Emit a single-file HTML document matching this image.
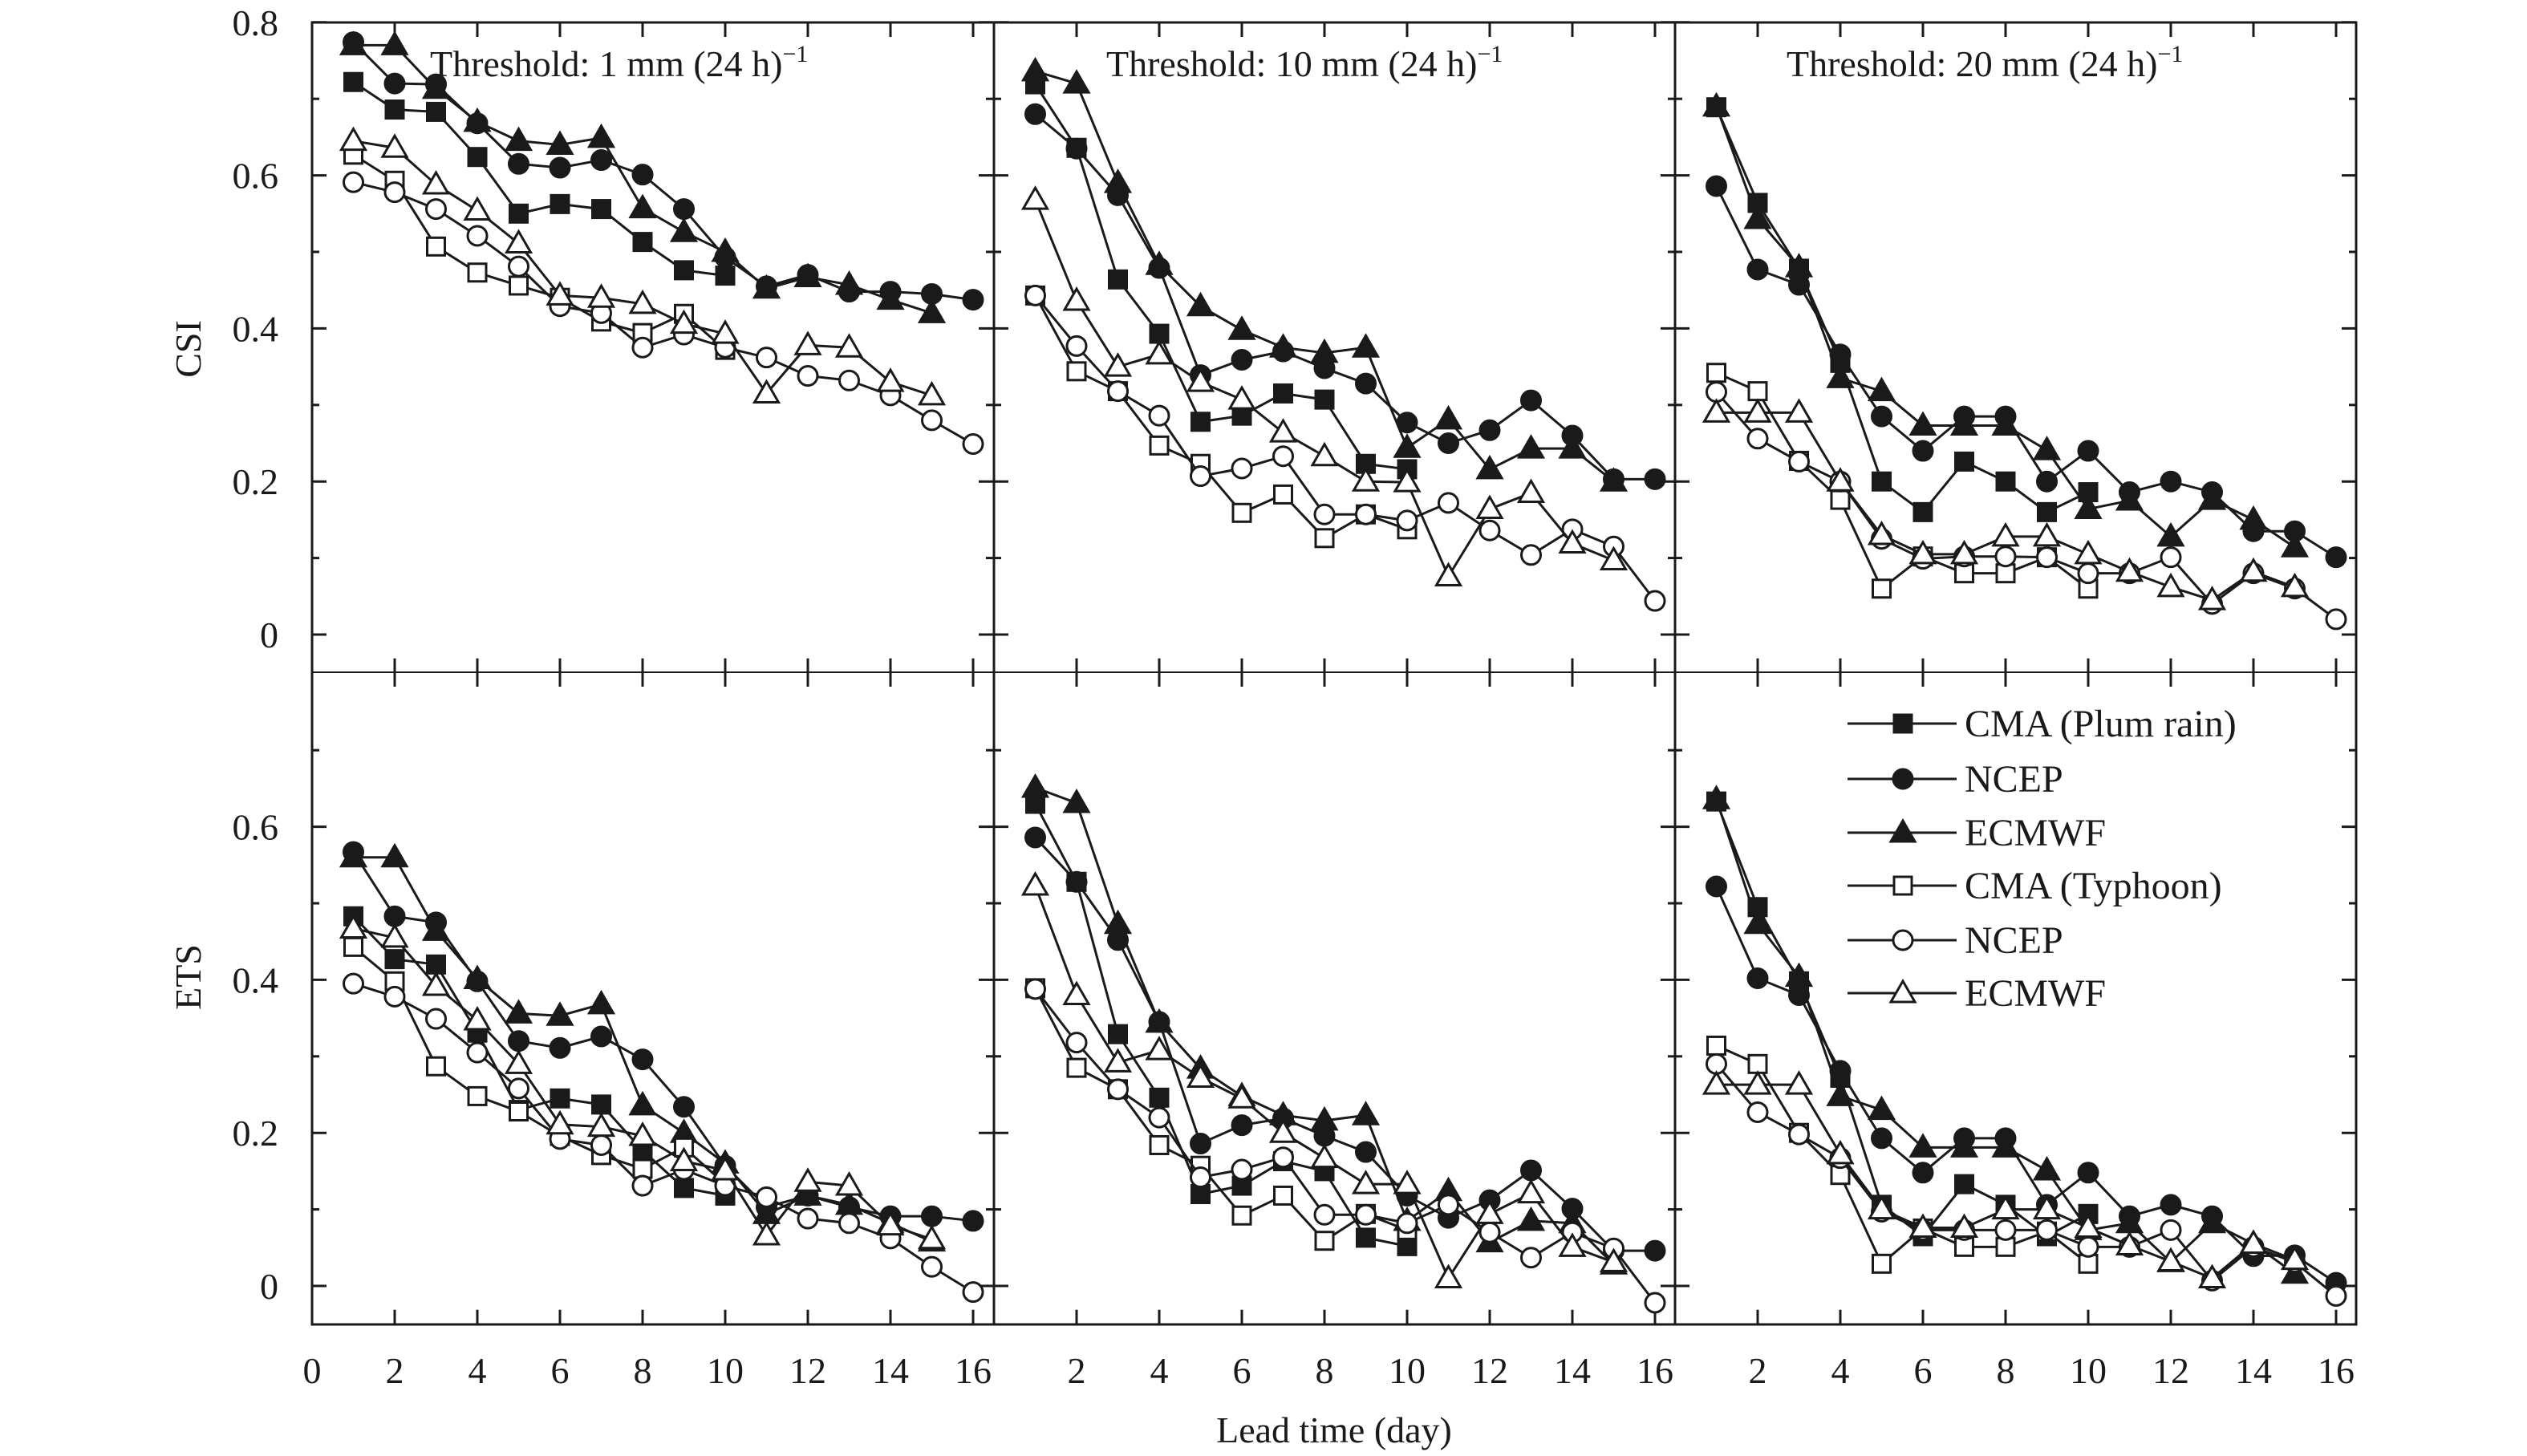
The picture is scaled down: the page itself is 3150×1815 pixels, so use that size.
<!DOCTYPE html>
<html><head><meta charset="utf-8"><title>CSI and ETS by lead time</title>
<style>html,body{margin:0;padding:0;background:#fff}svg{display:block}
text{font-family:"Liberation Serif",serif;fill:#1a1a1a}</style></head>
<body>
<svg id="fig" width="3150" height="1815" viewBox="0 0 3150 1815" xmlns="http://www.w3.org/2000/svg"></svg>
<script>
// ---- data ----
const days = [1,2,3,4,5,6,7,8,9,10,11,12,13,14,15,16];
const seriesNames = ["CMA (Plum rain)","NCEP","ECMWF","CMA (Typhoon)","NCEP","ECMWF"];
const seriesMarkers = ["sq-fill","ci-fill","tr-fill","sq-open","ci-open","tr-open"];
const thresholds = ["1","10","20"];
// CSI, 1 mm
const csi1_cmaPlum = [0.722,0.686,0.683,0.624,0.55,0.5625,0.556,0.513,0.476,0.469];
const csi1_ncepPlum = [0.774,0.72,0.719,0.668,0.615,0.61,0.62,0.601,0.556,0.493,0.455,0.47,0.448,0.448,0.445,0.4375];
const csi1_ecPlum = [0.77,0.77,0.713,0.67,0.645,0.64,0.649,0.557,0.526,0.5,0.452,0.467,0.457,0.4375,0.42];
const csi1_cmaTy = [0.627,0.593,0.507,0.473,0.456,0.44,0.409,0.394,0.419,0.372];
const csi1_ncepTy = [0.591,0.578,0.556,0.521,0.481,0.429,0.42,0.375,0.392,0.375,0.362,0.338,0.332,0.3125,0.28,0.249];
const csi1_ecTy = [0.645,0.636,0.588,0.554,0.511,0.443,0.44,0.432,0.406,0.393,0.315,0.378,0.375,0.33,0.3125];
// CSI, 10 mm
const csi10_cmaPlum = [0.719,0.636,0.464,0.393,0.278,0.286,0.315,0.307,0.223,0.216];
const csi10_ncepPlum = [0.68,0.635,0.574,0.479,0.339,0.359,0.37,0.348,0.328,0.277,0.25,0.267,0.306,0.26,0.203,0.203];
const csi10_ecPlum = [0.736,0.72,0.59,0.483,0.429,0.398,0.375,0.368,0.375,0.244,0.281,0.216,0.243,0.243,0.2];
const csi10_cmaTy = [0.443,0.344,0.318,0.247,0.223,0.159,0.183,0.126,0.157,0.1375];
const csi10_ncepTy = [0.443,0.377,0.318,0.286,0.207,0.217,0.233,0.157,0.157,0.149,0.172,0.136,0.104,0.1375,0.115,0.044];
const csi10_ecTy = [0.568,0.436,0.35,0.366,0.33,0.307,0.264,0.233,0.2,0.199,0.076,0.164,0.185,0.119,0.097];
// CSI, 20 mm
const csi20_cmaPlum = [0.689,0.564,0.478,0.355,0.2,0.16,0.226,0.2,0.16,0.186];
const csi20_ncepPlum = [0.586,0.477,0.457,0.366,0.285,0.24,0.285,0.285,0.2,0.24,0.186,0.2,0.186,0.135,0.135,0.101];
const csi20_ecPlum = [0.69,0.543,0.48,0.335,0.318,0.273,0.273,0.273,0.241,0.164,0.175,0.128,0.176,0.15,0.114];
const csi20_cmaTy = [0.342,0.318,0.227,0.176,0.06,0.102,0.08,0.08,0.101,0.06];
const csi20_ncepTy = [0.317,0.256,0.226,0.2,0.125,0.099,0.102,0.102,0.101,0.08,0.08,0.101,0.04,0.08,0.06,0.02];
const csi20_ecTy = [0.29,0.29,0.29,0.2,0.13,0.105,0.105,0.128,0.128,0.105,0.082,0.062,0.045,0.082,0.062];
// ETS, 1 mm
const ets1_cmaPlum = [0.483,0.427,0.42,0.331,0.23,0.245,0.237,0.177,0.128,0.118];
const ets1_ncepPlum = [0.567,0.483,0.475,0.398,0.32,0.311,0.326,0.296,0.234,0.157,0.103,0.118,0.103,0.091,0.091,0.085];
const ets1_ecPlum = [0.56,0.56,0.464,0.401,0.356,0.353,0.368,0.236,0.2,0.16,0.094,0.118,0.106,0.082,0.058];
const ets1_cmaTy = [0.443,0.398,0.287,0.248,0.228,0.196,0.171,0.153,0.181,0.133];
const ets1_ncepTy = [0.395,0.378,0.349,0.305,0.258,0.192,0.184,0.131,0.152,0.131,0.116,0.088,0.082,0.062,0.025,-0.008];
const ets1_ecTy = [0.467,0.455,0.392,0.347,0.29,0.211,0.208,0.196,0.163,0.151,0.066,0.136,0.131,0.079,0.061];
// ETS, 10 mm
const ets10_cmaPlum = [0.63,0.528,0.329,0.246,0.12,0.131,0.163,0.15,0.063,0.052];
const ets10_ncepPlum = [0.586,0.528,0.452,0.345,0.186,0.21,0.219,0.196,0.175,0.118,0.089,0.112,0.151,0.101,0.046,0.046];
const ets10_ecPlum = [0.651,0.631,0.473,0.344,0.284,0.248,0.223,0.216,0.223,0.085,0.124,0.057,0.085,0.082,0.028];
const ets10_cmaTy = [0.389,0.285,0.257,0.184,0.157,0.092,0.118,0.059,0.094,0.073];
const ets10_ncepTy = [0.388,0.318,0.257,0.22,0.142,0.152,0.168,0.093,0.093,0.082,0.106,0.07,0.037,0.07,0.049,-0.022];
const ets10_ecTy = [0.523,0.38,0.292,0.308,0.272,0.245,0.2,0.167,0.133,0.133,0.01,0.094,0.121,0.051,0.031];
// ETS, 20 mm
const ets20_cmaPlum = [0.633,0.495,0.398,0.272,0.106,0.065,0.133,0.106,0.065,0.094];
const ets20_ncepPlum = [0.522,0.402,0.38,0.281,0.193,0.148,0.193,0.193,0.106,0.148,0.091,0.106,0.091,0.039,0.04,0.004];
const ets20_ecPlum = [0.636,0.473,0.404,0.248,0.23,0.181,0.181,0.181,0.151,0.073,0.082,0.031,0.082,0.055,0.016];
const ets20_cmaTy = [0.314,0.29,0.2,0.145,0.029,0.075,0.051,0.051,0.071,0.029];
const ets20_ncepTy = [0.29,0.227,0.198,0.167,0.097,0.073,0.073,0.073,0.073,0.051,0.051,0.073,0.007,0.051,0.031,-0.013];
const ets20_ecTy = [0.263,0.263,0.263,0.172,0.1,0.076,0.076,0.1,0.1,0.076,0.053,0.032,0.01,0.055,0.034];

const xTicks = [0,2,4,6,8,10,12,14,16];
const yMajorCSI = [0,0.2,0.4,0.6,0.8];
const yMajorETS = [0,0.2,0.4,0.6];
const yMinor = [0.1,0.3,0.5,0.7];

const panelData = [
 [csi1_cmaPlum,csi1_ncepPlum,csi1_ecPlum,csi1_cmaTy,csi1_ncepTy,csi1_ecTy],
 [csi10_cmaPlum,csi10_ncepPlum,csi10_ecPlum,csi10_cmaTy,csi10_ncepTy,csi10_ecTy],
 [csi20_cmaPlum,csi20_ncepPlum,csi20_ecPlum,csi20_cmaTy,csi20_ncepTy,csi20_ecTy],
 [ets1_cmaPlum,ets1_ncepPlum,ets1_ecPlum,ets1_cmaTy,ets1_ncepTy,ets1_ecTy],
 [ets10_cmaPlum,ets10_ncepPlum,ets10_ecPlum,ets10_cmaTy,ets10_ncepTy,ets10_ecTy],
 [ets20_cmaPlum,ets20_ncepPlum,ets20_ecPlum,ets20_cmaTy,ets20_ncepTy,ets20_ecTy]
];

// ---- layout ----
const NS="http://www.w3.org/2000/svg";
const svg=document.getElementById('fig');
const INK="#1a1a1a";
const colL=[389,1239,2088], colW=849, pxPerDay=51.5;
const rowY0=[791,1603], pxPer01=95.4;
function mk(tag,attrs,parent){const e=document.createElementNS(NS,tag);for(const k in attrs)e.setAttribute(k,attrs[k]);(parent||svg).appendChild(e);return e;}
function xS(c,d){return colL[c]+d*pxPerDay;}
function yS(r,v){return rowY0[r]-v*pxPer01*10;}

function marker(g,type,x,y){
  const open=type.endsWith('open');
  const fill=open?'#fff':INK;
  let e;
  if(type.startsWith('sq')) e=mk('rect',{x:x-11,y:y-11,width:22,height:22,fill:fill,stroke:INK,'stroke-width':3},g);
  else if(type.startsWith('ci')) e=mk('circle',{cx:x,cy:y,r:12,fill:fill,stroke:INK,'stroke-width':3},g);
  else e=mk('polygon',{points:`${x},${y-15} ${x-15},${y+11} ${x+15},${y+11}`,fill:fill,stroke:INK,'stroke-width':3,'stroke-linejoin':'miter'},g);
  return e;
}

for(let r=0;r<2;r++){
  for(let c=0;c<3;c++){
    const p=r*3+c;
    const g=mk('g',{});
    
    
    const top=yS(r,0.8)-(r===1?0:0), bot=yS(r,-0.05);
    const topY=r===0?28:838;
    // ticks
    const majors=r===0?yMajorCSI:yMajorETS;
    majors.forEach(v=>{const y=yS(r,v);mk('line',{x1:colL[c],x2:colL[c]+18,y1:y,y2:y,stroke:INK,'stroke-width':3},g);mk('line',{x1:colL[c]+colW,x2:colL[c]+colW-18,y1:y,y2:y,stroke:INK,'stroke-width':3},g);});
    yMinor.forEach(v=>{const y=yS(r,v);mk('line',{x1:colL[c],x2:colL[c]+9,y1:y,y2:y,stroke:INK,'stroke-width':3},g);mk('line',{x1:colL[c]+colW,x2:colL[c]+colW-9,y1:y,y2:y,stroke:INK,'stroke-width':3},g);});
    xTicks.forEach(d=>{if(d===0)return;const x=xS(c,d);mk('line',{x1:x,x2:x,y1:bot,y2:bot-18,stroke:INK,'stroke-width':3},g);mk('line',{x1:x,x2:x,y1:topY,y2:topY+18,stroke:INK,'stroke-width':3},g);});
    // series
    panelData[p].forEach((vals,s)=>{
      const sg=mk('g',{},g);
      
      
      const pts=vals.map((v,i)=>xS(c,days[i])+','+yS(r,v)).join(' ');
      mk('polyline',{points:pts,fill:'none',stroke:INK,'stroke-width':3,'stroke-linejoin':'round'},sg);
      vals.forEach((v,i)=>{const m=marker(sg,seriesMarkers[s],xS(c,days[i]),yS(r,v));
        
        });
    });
    if(r===0){
      const tx=[536,1379,2227][c];
      const t=mk('text',{x:tx,y:95,'font-size':46},g);
      
      
      t.textContent='Threshold: '+thresholds[c]+' mm (24 h)';
      const sup=mk('tspan',{'font-size':30,dy:-18},t);sup.textContent='\u22121';
    }
    // x tick labels (bottom row)
    if(r===1){
      xTicks.forEach(d=>{if(d===0&&c>0)return;const t=mk('text',{x:xS(c,d),y:1724,'font-size':46,'text-anchor':'middle'},g);
        
        
        t.textContent=String(d);});
    }
    if(c===0){
      majors.forEach(v=>{const t=mk('text',{x:347,y:yS(r,v)+16,'font-size':46,'text-anchor':'end'},g);
        
        
        t.textContent=v===0?'0':v.toFixed(1);});
    }
  }
}
// frame
const fr=mk('g',{});


mk('rect',{x:389,y:28,width:2548,height:1623,fill:'none',stroke:INK,'stroke-width':3},fr);
mk('line',{x1:389,x2:2937,y1:838,y2:838,stroke:INK,'stroke-width':2},fr);
mk('line',{x1:1239,x2:1239,y1:28,y2:1651,stroke:INK,'stroke-width':3},fr);
mk('line',{x1:2088,x2:2088,y1:28,y2:1651,stroke:INK,'stroke-width':3},fr);

// axis titles
let t=mk('text',{x:0,y:0,'font-size':46,'text-anchor':'middle',transform:'translate(250,435) rotate(-90)'});


t.textContent='CSI';
t=mk('text',{x:0,y:0,'font-size':46,'text-anchor':'middle',transform:'translate(250,1218) rotate(-90)'});


t.textContent='ETS';
t=mk('text',{x:1663,y:1798,'font-size':46,'text-anchor':'middle'});


t.textContent='Lead time (day)';

// legend
const lg=mk('g',{});


const legY=[902,971,1038,1104,1172,1238];
seriesNames.forEach((n,i)=>{
  const e=mk('g',{},lg);
  
  
  mk('line',{x1:2303,x2:2439,y1:legY[i],y2:legY[i],stroke:INK,'stroke-width':3},e);
  marker(e,seriesMarkers[i],2372,legY[i]);
  const tx=mk('text',{x:2449,y:legY[i]+16,'font-size':48},e);
  tx.textContent=n;
});
</script>
</body></html>
